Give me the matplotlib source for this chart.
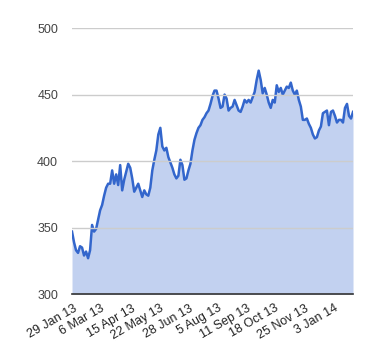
import numpy as np
import pandas as pd
import matplotlib
matplotlib.use("Agg")
import matplotlib.pyplot as plt

plt.rcParams['font.family'] = ['Liberation Sans', 'DejaVu Sans']

# values, roughly one every ~2.6 days
values = [
    347, 339, 333, 331, 336, 335, 329, 332, 327, 333,
    352, 347, 349, 356, 363, 367, 374, 380, 383, 383,
    393, 383, 390, 382, 397, 378, 386, 392, 398, 395,
    387, 377, 380, 383, 378, 373, 378, 375, 374, 380,
    393, 401, 408, 420, 425, 411, 408, 410, 403, 399,
    395, 390, 387, 389, 401, 397, 386, 387, 393, 398,
    408, 416, 421, 425, 427, 431, 433, 436, 438, 443,
    449, 453, 453, 447, 440, 441, 450, 447, 438, 440,
    441, 446, 442, 438, 437, 441, 446, 444, 446, 444,
    448, 452, 461, 468, 461, 451, 455, 450, 444, 440,
    446, 444, 457, 452, 455, 450, 453, 456, 455, 459,
    453, 450, 453, 446, 441, 431, 431, 432, 428, 425,
    420, 417, 418, 423, 426, 436, 437, 438, 427, 437,
    438, 434, 429, 431, 431, 429, 440, 443, 434, 432,
    437,
]
start_date = "2013-01-28"
end_date = "2014-01-27"
tick_dates = ["2013-01-29", "2013-03-06", "2013-04-15", "2013-05-22", "2013-06-28",
              "2013-08-05", "2013-09-11", "2013-10-18", "2013-11-25", "2014-01-03"]
tick_labels = ["29 Jan 13", "6 Mar 13", "15 Apr 13", "22 May 13", "28 Jun 13",
               "5 Aug 13", "11 Sep 13", "18 Oct 13", "25 Nov 13", "3 Jan 14"]
y_ticks = [300, 350, 400, 450, 500]

dates = pd.date_range(start_date, end_date, periods=len(values))

fig = plt.figure(figsize=(3.8, 3.6), dpi=100)
ax = fig.add_axes([0.1895, 0.183, 0.7395, 0.739])

ax.fill_between(dates, values, 300, color='#c2d1f0', linewidth=0)
ax.plot(dates, values, color='#3366cc', linewidth=1.8)

ax.set_xlim(dates[0], dates[-1])
ax.set_ylim(300, 500)
ax.set_yticks(y_ticks)
ax.yaxis.grid(True, color='#cccccc', linewidth=1)
ax.set_axisbelow(False)
for s in ['top', 'right', 'left']:
    ax.spines[s].set_visible(False)
ax.spines['bottom'].set_color('#333333')
ax.spines['bottom'].set_linewidth(1.2)
ax.spines['bottom'].set_zorder(5)

ax.set_xticks(pd.to_datetime(tick_dates))
ax.set_xticklabels(tick_labels, rotation=30, ha='right', rotation_mode='anchor')
ax.tick_params(axis='x', length=0, pad=6, labelsize=9, labelcolor='#222222')
ax.tick_params(axis='y', length=0, pad=10, labelsize=9, labelcolor='#444444')

fig.savefig('out.png', dpi=100)
